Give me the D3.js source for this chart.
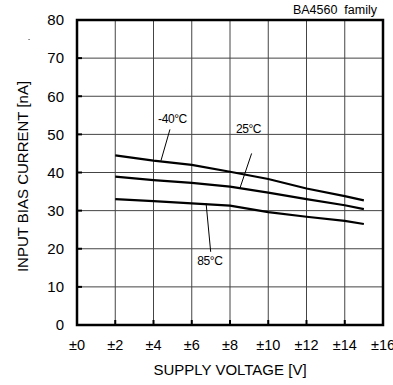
<!DOCTYPE html>
<html>
<head>
<meta charset="utf-8">
<script src="https://cdn.jsdelivr.net/npm/d3@7"></script>
<style>
  body { margin: 0; background: #fff; }
  svg { display: block; font-family: "Liberation Sans", Arial, sans-serif; }
</style>
</head>
<body>
<svg id="chart" width="393" height="385"></svg>
<script>
// supply voltage (+/- V) and input bias current (nA)
var voltages = [2, 4, 6, 8, 10, 12, 14, 15];
var currentM40 = [44.5, 43.1, 42.0, 40.2, 38.3, 35.8, 33.8, 32.7];
var current25 = [38.9, 38.0, 37.3, 36.3, 34.7, 33.0, 31.4, 30.4];
var current85 = [33.0, 32.5, 31.9, 31.3, 29.6, 28.4, 27.3, 26.5];

var xTicks = [0, 2, 4, 6, 8, 10, 12, 14, 16];
var yTicks = [0, 10, 20, 30, 40, 50, 60, 70, 80];

// label text, anchor (x,y) and leader line in data units
var labels = [
    { text: "-40°C", x: 4.24, y: 53.1, lx1: 4.86, ly1: 51.3, lx2: 4.39, ly2: 43.1 },
    { text: "25°C", x: 8.31, y: 50.3, lx1: 9.13, ly1: 45.0, lx2: 8.52, ly2: 35.9 },
    { text: "85°C", x: 6.29, y: 15.7, lx1: 6.75, ly1: 31.9, lx2: 6.99, ly2: 19.2 }
];

var svg = d3.select("#chart");
var plotL = 77, plotR = 383, plotT = 20, plotB = 325;

var x = d3.scaleLinear().domain([0, 16]).range([plotL, plotR]);
var y = d3.scaleLinear().domain([0, 80]).range([plotB, plotT]);

// grid
var grid = svg.append("g").attr("stroke", "#444").attr("stroke-width", 1);
grid.append("g").selectAll("line").data(xTicks).join("line")
    .attr("x1", d => x(d)).attr("x2", d => x(d))
    .attr("y1", plotT).attr("y2", plotB);
grid.append("g").selectAll("line").data(yTicks).join("line")
    .attr("y1", d => y(d)).attr("y2", d => y(d))
    .attr("x1", plotL).attr("x2", plotR);

// inner ticks
svg.append("g").attr("stroke", "#000").attr("stroke-width", 2)
    .selectAll("line").data(xTicks).join("line")
    .attr("x1", d => x(d)).attr("x2", d => x(d))
    .attr("y1", plotB).attr("y2", plotB - 5);
svg.append("g").attr("stroke", "#000").attr("stroke-width", 2)
    .selectAll("line").data(yTicks).join("line")
    .attr("y1", d => y(d)).attr("y2", d => y(d))
    .attr("x1", plotL).attr("x2", plotL + 5);

// frame
svg.append("rect")
    .attr("x", plotL).attr("y", plotT)
    .attr("width", plotR - plotL).attr("height", plotB - plotT)
    .attr("fill", "none").attr("stroke", "#000").attr("stroke-width", 2.5);

// axes labels
svg.append("g").selectAll("text").data(yTicks).join("text")
    .attr("x", plotL - 13).attr("y", d => y(d))
    .attr("dy", "0.35em")
    .attr("text-anchor", "end")
    .attr("font-size", 15)
    .text(d => d);

svg.append("g").selectAll("text").data(xTicks).join("text")
    .attr("x", d => x(d)).attr("y", plotB + 25)
    .attr("text-anchor", "middle")
    .attr("font-size", 14.5)
    .text(d => "±" + d);

svg.append("text")
    .attr("x", (plotL + plotR) / 2).attr("y", 375)
    .attr("text-anchor", "middle")
    .attr("font-size", 15)
    .text("SUPPLY VOLTAGE [V]");

svg.append("text")
    .attr("transform", "rotate(-90)")
    .attr("x", -176.5).attr("y", 28.3)
    .attr("text-anchor", "middle")
    .attr("font-size", 15)
    .text("INPUT BIAS CURRENT [nA]");

svg.append("text")
    .attr("x", 29).attr("y", 40)
    .attr("text-anchor", "middle")
    .attr("font-size", 9)
    .text(".");

svg.append("text")
    .attr("x", 377).attr("y", 14)
    .attr("text-anchor", "end")
    .attr("font-size", 12.5)
    .attr("xml:space", "preserve")
    .text("BA4560  family");

// curves
var line = d3.line()
    .x(d => x(d[0]))
    .y(d => y(d[1]));

[currentM40, current25, current85].forEach(series => {
    svg.append("path")
        .datum(voltages.map((v, i) => [v, series[i]]))
        .attr("fill", "none")
        .attr("stroke", "#000")
        .attr("stroke-width", 2.2)
        .attr("d", line);
});

// labels + leaders
labels.forEach(l => {
    svg.append("line")
        .attr("x1", x(l.lx1)).attr("y1", y(l.ly1))
        .attr("x2", x(l.lx2)).attr("y2", y(l.ly2))
        .attr("stroke", "#000").attr("stroke-width", 1);
    svg.append("text")
        .attr("x", x(l.x)).attr("y", y(l.y))
        .attr("font-size", 12)
        .attr("letter-spacing", -0.4)
        .text(l.text);
});
</script>
</body>
</html>
